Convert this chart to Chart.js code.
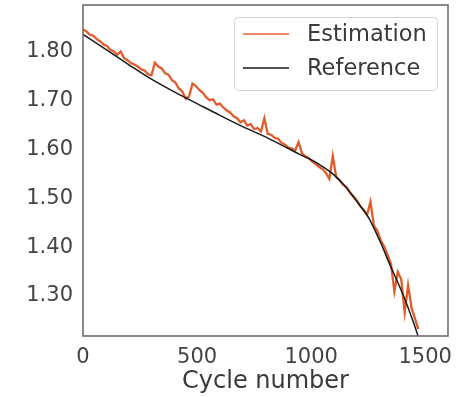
<!DOCTYPE html>
<html>
<head>
<meta charset="utf-8">
<script src="https://cdn.jsdelivr.net/npm/chart.js@4.4.0/dist/chart.umd.min.js"></script>
<style>
html, body { margin: 0; padding: 0; background: #fff; }
#wrap { width: 462px; height: 397px; position: relative; }
</style>
</head>
<body>
<div id="wrap"><canvas id="capacityChart"></canvas></div>
<script>
const xTicks = [0, 500, 1000, 1500];
const yTicks = [1.3, 1.4, 1.5, 1.6, 1.7, 1.8];

const refCycles = [0, 100, 200, 300, 400, 450, 500, 600, 700, 800, 900, 950,
    1000, 1050, 1100, 1150, 1200, 1250, 1300, 1350, 1400, 1450, 1470];
const refValues = [1.832, 1.801, 1.770, 1.740, 1.714, 1.702, 1.690, 1.666, 1.643, 1.622, 1.598, 1.586,
    1.575, 1.561, 1.544, 1.520, 1.490, 1.458, 1.410, 1.355, 1.302, 1.240, 1.212];

// estimation sampled every 15 cycles
const estStep = 15;
const estValues = [
    1.842, 1.838, 1.831, 1.829, 1.822, 1.818, 1.811, 1.808, 1.800, 1.797,
    1.790, 1.797, 1.783, 1.779, 1.773, 1.770, 1.766, 1.760, 1.758, 1.750,
    1.748, 1.774, 1.766, 1.762, 1.752, 1.749, 1.738, 1.733, 1.721, 1.715,
    1.700, 1.705, 1.731, 1.726, 1.718, 1.712, 1.703, 1.697, 1.699, 1.688,
    1.690, 1.682, 1.676, 1.672, 1.664, 1.660, 1.652, 1.656, 1.645, 1.648,
    1.638, 1.640, 1.633, 1.660, 1.628, 1.626, 1.620, 1.618, 1.610, 1.606,
    1.600, 1.598, 1.594, 1.611, 1.588, 1.582, 1.578, 1.571, 1.566, 1.560,
    1.556, 1.548, 1.536, 1.583, 1.540, 1.533, 1.524, 1.519, 1.508, 1.500,
    1.492, 1.480, 1.472, 1.462, 1.489, 1.440, 1.430, 1.410, 1.398, 1.380,
    1.362, 1.305, 1.345, 1.330, 1.262, 1.318, 1.272, 1.250, 1.228
];

const estColor = 'rgba(224, 78, 24, 0.92)';
const estLegendColor = '#ee8a6a';
const refColor = '#1a1a1a';
const textColor = '#444444';
const fontFamily = '"DejaVu Sans", sans-serif';

const estPoints = estValues.map((v, i) => ({ x: i * estStep, y: v }));
const refPoints = refValues.map((v, i) => ({ x: refCycles[i], y: v }));

const framePlugin = {
    id: 'frame',
    afterDatasetsDraw(chart) {
        const { ctx, chartArea: a } = chart;
        ctx.save();
        ctx.strokeStyle = '#6e6e6e';
        ctx.lineWidth = 1.6;
        ctx.strokeRect(a.left, a.top, a.right - a.left, a.bottom - a.top);
        ctx.restore();
    }
};

const boxLegend = {
    id: 'boxLegend',
    afterDraw(chart) {
        const { ctx, chartArea: a } = chart;
        const w = 203, h = 73;
        const x = a.right - 11 - w, y = a.top + 12;
        ctx.save();
        ctx.beginPath();
        ctx.roundRect(x + 0.5, y + 0.5, w, h, 4);
        ctx.fillStyle = 'rgba(255,255,255,0.9)';
        ctx.fill();
        ctx.strokeStyle = '#d4d4d4';
        ctx.lineWidth = 1;
        ctx.stroke();
        const items = [
            { label: 'Estimation', color: estLegendColor, width: 2 },
            { label: 'Reference', color: refColor, width: 1.5 }
        ];
        ctx.font = '22.5px ' + fontFamily;
        ctx.textBaseline = 'middle';
        items.forEach((it, i) => {
            const ly = y + 17 + i * 34;
            ctx.beginPath();
            ctx.moveTo(x + 9, ly);
            ctx.lineTo(x + 55, ly);
            ctx.strokeStyle = it.color;
            ctx.lineWidth = it.width;
            ctx.stroke();
            ctx.fillStyle = '#3a3a3a';
            ctx.fillText(it.label, x + 73, ly + 1);
        });
        ctx.restore();
    }
};

new Chart(document.getElementById('capacityChart'), {
    type: 'line',
    data: {
        datasets: [
            {
                label: 'Estimation',
                data: estPoints,
                borderColor: estColor,
                borderWidth: 2.3,
                pointRadius: 0,
                tension: 0,
                order: 1
            },
            {
                label: 'Reference',
                data: refPoints,
                borderColor: refColor,
                borderWidth: 1.5,
                pointRadius: 0,
                cubicInterpolationMode: 'monotone',
                order: 0
            }
        ]
    },
    options: {
        responsive: true,
        maintainAspectRatio: false,
        animation: false,
        layout: { padding: { left: 0, top: 5, right: 14, bottom: 0 } },
        plugins: {
            legend: { display: false },
            tooltip: { enabled: false }
        },
        scales: {
            x: {
                type: 'linear',
                min: 0,
                max: 1600,
                grid: { display: false, drawTicks: false },
                border: { display: false },
                afterBuildTicks: (scale) => { scale.ticks = xTicks.map(v => ({ value: v })); },
                afterFit: (scale) => {
                    scale.height = 61;
                    scale.paddingLeft = 0;
                    scale.paddingRight = 0;
                },
                ticks: {
                    color: textColor,
                    padding: 9,
                    maxRotation: 0,
                    font: { family: fontFamily, size: 21 },
                    callback: (v) => String(v)
                },
                title: {
                    display: true,
                    text: 'Cycle number',
                    color: '#3a3a3a',
                    padding: { top: 0, bottom: 1 },
                    font: { family: fontFamily, size: 24 }
                }
            },
            y: {
                type: 'linear',
                min: 1.214,
                max: 1.892,
                grid: { display: false, drawTicks: false },
                border: { display: false },
                afterBuildTicks: (scale) => { scale.ticks = yTicks.map(v => ({ value: v })); },
                afterFit: (scale) => {
                    scale.width = 83;
                    scale.paddingTop = 0;
                    scale.paddingBottom = 0;
                },
                ticks: {
                    color: textColor,
                    padding: 10,
                    labelOffset: 2,
                    font: { family: fontFamily, size: 21 },
                    callback: (v) => Number(v).toFixed(2)
                }
            }
        }
    },
    plugins: [framePlugin, boxLegend]
});
</script>
</body>
</html>
